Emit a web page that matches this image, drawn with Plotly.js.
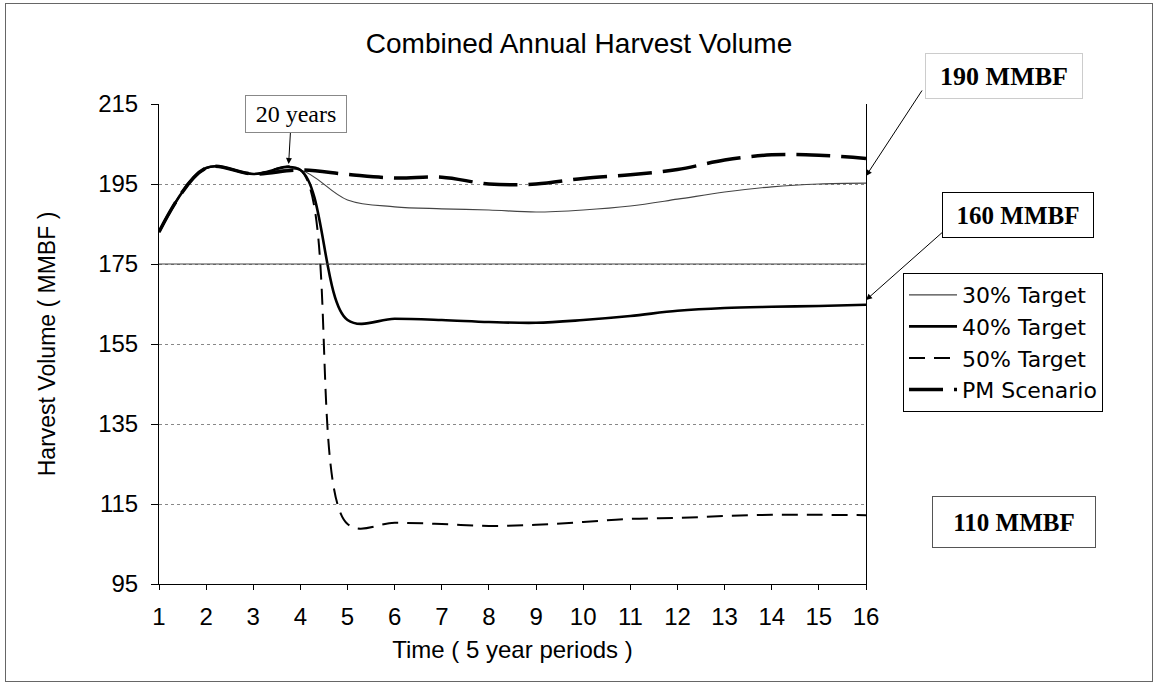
<!DOCTYPE html>
<html>
<head>
<meta charset="utf-8">
<script src="https://cdn.plot.ly/plotly-3.0.1.min.js"></script>
<style>
  html, body { margin: 0; padding: 0; background: #fff; }
  #wrap { position: relative; width: 1158px; height: 688px; }
  #chart { width: 1158px; height: 688px; }
  #frame { position: absolute; left: 5px; top: 3px; width: 1146px; height: 677px;
           border: 1px solid #666; pointer-events: none; }
</style>
</head>
<body>
<div id="wrap">
  <div id="chart"></div>
  <div id="frame"></div>
</div>
<script>
// ---- data ----
const periods = [1, 2, 3, 4, 5, 6, 7, 8, 9, 10, 11, 12, 13, 14, 15, 16];
const target30 = [183, 199, 197.5, 198.5, 191, 189.3, 188.8, 188.5, 188, 188.5, 189.5, 191.2, 193, 194.3, 195, 195.2];
const target40 = [183, 199, 197.5, 198.5, 161, 161.3, 161, 160.5, 160.3, 161, 162, 163.3, 164, 164.3, 164.5, 164.8];
const target50 = [183, 199, 197.5, 198.5, 110, 110.3, 110, 109.5, 109.8, 110.5, 111.3, 111.5, 112, 112.3, 112.3, 112.2];
const pmScenario = [183, 199, 197.5, 198.5, 197.4, 196.5, 196.7, 195, 195, 196.4, 197.3, 198.6, 201, 202.3, 202.2, 201.4];
const seriesNames = ['30% Target', '40% Target', '50% Target', 'PM Scenario'];
const yTicks = [95, 115, 135, 155, 175, 195, 215];

const SANS = 'Liberation Sans, Arial, sans-serif';
const WIDE = 'DejaVu Sans, Liberation Sans, sans-serif';
const SERIF = 'Liberation Serif, Times New Roman, serif';

const traces = [
  { x: periods, y: target30, name: seriesNames[0], mode: 'lines',
    line: { color: '#444', width: 1.2, shape: 'spline', smoothing: 1 } },
  { x: periods, y: target40, name: seriesNames[1], mode: 'lines',
    line: { color: '#000', width: 2.6, shape: 'spline', smoothing: 1 } },
  { x: periods, y: target50, name: seriesNames[2], mode: 'lines',
    line: { color: '#000', width: 2, dash: '16px,9px', shape: 'spline', smoothing: 1 } },
  { x: periods, y: pmScenario, name: seriesNames[3], mode: 'lines',
    line: { color: '#000', width: 3.5, dash: '34px,11px', shape: 'spline', smoothing: 1 } }
];

const L = 159, R = 866, T = 104, B = 584;
const px = v => (v - L) / (R - L);
const py = v => (B - v) / (B - T);

const layout = {
  width: 1158, height: 688,
  margin: { l: L, r: 1158 - R, t: T, b: 688 - B, pad: 0 },
  paper_bgcolor: '#fff', plot_bgcolor: '#fff',
  showlegend: true,
  title: { text: 'Combined Annual Harvest Volume', font: { family: SANS, size: 28, color: '#000' },
           xref: 'container', x: 0.5, xanchor: 'center', yref: 'container', y: 1 - 43 / 688, yanchor: 'middle' },
  xaxis: {
    range: [1, 16], tickmode: 'array', tickvals: periods, ticktext: periods.map(String),
    showgrid: false, zeroline: false, showline: true, linecolor: '#000', linewidth: 1,
    ticks: 'outside', ticklen: 5, tickcolor: '#000', ticklabelstandoff: 6,
    tickfont: { family: SANS, size: 24, color: '#000' },
    title: { text: 'Time ( 5 year periods )', font: { family: SANS, size: 24, color: '#000' }, standoff: 12 }
  },
  yaxis: {
    range: [95, 215], tickmode: 'array', tickvals: yTicks, ticktext: yTicks.map(String),
    showgrid: true, gridcolor: '#888', gridwidth: 1, griddash: 'dot', zeroline: false,
    showline: true, mirror: true, linecolor: '#000', linewidth: 1,
    ticks: 'outside', ticklen: 7, tickcolor: '#000', ticklabelstandoff: 8,
    tickfont: { family: SANS, size: 24, color: '#000' },
    title: { text: 'Harvest Volume ( MMBF )', font: { family: SANS, size: 23, color: '#000' }, standoff: 36 }
  },
  legend: {
    x: px(903), y: py(273), xanchor: 'left', yanchor: 'top',
    bgcolor: '#fff', bordercolor: '#000', borderwidth: 1,
    font: { family: WIDE, size: 22, color: '#000' },
    tracegroupgap: 0, itemwidth: 48
  },
  shapes: [
    { type: 'line', xref: 'paper', x0: 0, x1: 1, yref: 'y', y0: 175, y1: 175,
      line: { color: '#444', width: 1 } }
  ],
  annotations: [
    // arrows
    { x: 3.75, y: 200, xref: 'x', yref: 'y', text: '', showarrow: true,
      ax: 2, ay: -35, axref: 'pixel', ayref: 'pixel', arrowhead: 2, arrowsize: 1.2, arrowwidth: 1, arrowcolor: '#000', standoff: 0 },
    { x: 16, y: 197, xref: 'x', yref: 'y', text: '', showarrow: true,
      ax: 57, ay: -87, arrowhead: 2, arrowsize: 1.2, arrowwidth: 1, arrowcolor: '#000', standoff: 0 },
    { x: 16, y: 166, xref: 'x', yref: 'y', text: '', showarrow: true,
      ax: 79, ay: -70, arrowhead: 2, arrowsize: 1.2, arrowwidth: 1, arrowcolor: '#000', standoff: 0 },
    { x: 16.12, y: 113, xref: 'x', yref: 'y', text: '', showarrow: true,
      ax: 60, ay: 12, arrowhead: 2, arrowsize: 1.2, arrowwidth: 1, arrowcolor: '#000', standoff: 0 },
    // label boxes
    { xref: 'paper', yref: 'paper', x: px(296), y: py(114), xanchor: 'center', yanchor: 'middle',
      text: '20 years', showarrow: false, font: { family: SERIF, size: 24, color: '#000' },
      bordercolor: '#888', borderwidth: 1, borderpad: 3, bgcolor: '#fff', width: 94, height: 30 },
    { xref: 'paper', yref: 'paper', x: px(1004), y: py(76), xanchor: 'center', yanchor: 'middle',
      text: '<b>190 MMBF</b>', showarrow: false, font: { family: SERIF, size: 26, color: '#000' },
      bordercolor: '#ccc', borderwidth: 1, borderpad: 4, width: 148, height: 36 },
    { xref: 'paper', yref: 'paper', x: px(1018), y: py(215), xanchor: 'center', yanchor: 'middle',
      text: '<b>160 MMBF</b>', showarrow: false, font: { family: SERIF, size: 25, color: '#000' },
      bordercolor: '#000', borderwidth: 1, borderpad: 3, bgcolor: '#fff', width: 144, height: 38 },
    { xref: 'paper', yref: 'paper', x: px(1014), y: py(522), xanchor: 'center', yanchor: 'middle',
      text: '<b>110 MMBF</b>', showarrow: false, font: { family: SERIF, size: 25, color: '#000' },
      bordercolor: '#555', borderwidth: 1, borderpad: 3, bgcolor: '#fff', width: 156, height: 44 }
  ]
};

Plotly.newPlot('chart', traces, layout, { displayModeBar: false, staticPlot: true });
</script>
</body>
</html>
